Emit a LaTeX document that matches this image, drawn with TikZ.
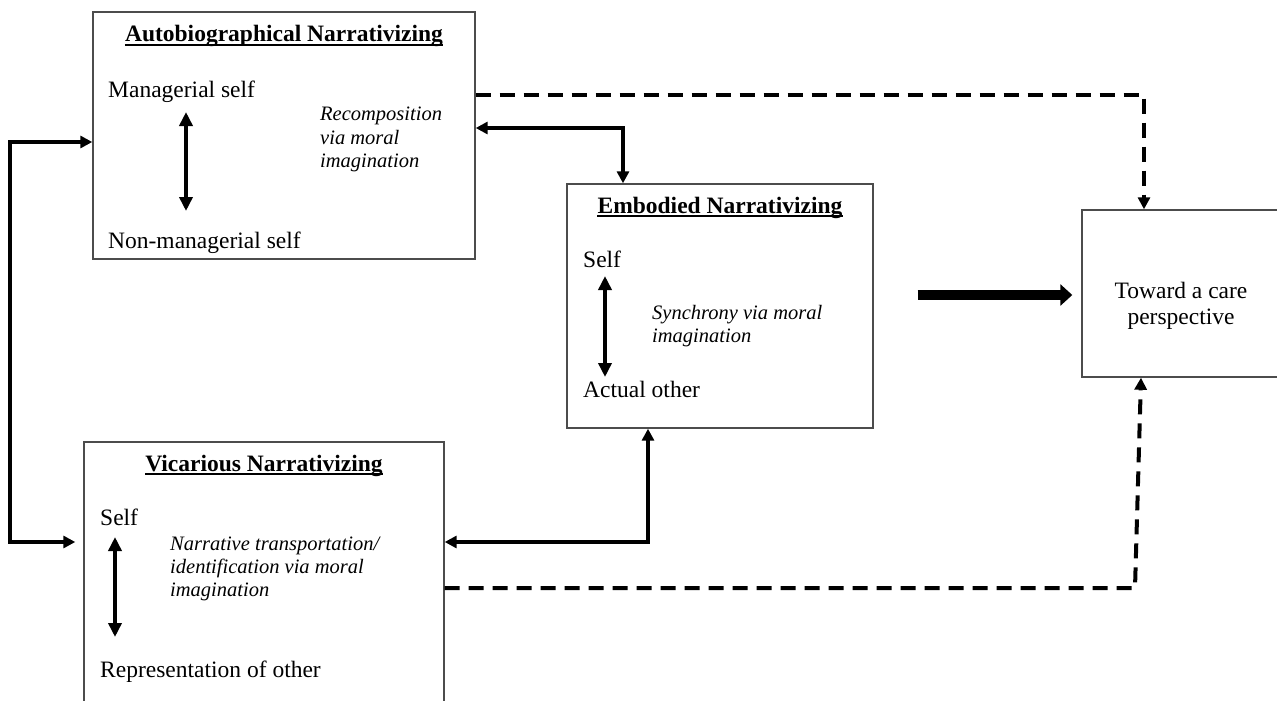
\documentclass[tikz,border=0pt]{standalone}
\usepackage{fontspec}
\setmainfont{Liberation Serif}
\usetikzlibrary{arrows.meta,calc}
\begin{document}
\begin{tikzpicture}[x=1pt,y=-1pt,
  box/.style={draw=black!70, line width=1.4pt, rectangle, inner sep=0pt},
  lbl/.style={anchor=base west, inner sep=0pt, font=\fontsize{23.5}{27}\selectfont},
  ctr/.style={anchor=base, inner sep=0pt, font=\fontsize{23.5}{27}\selectfont},
  ttl/.style={anchor=base, inner sep=0pt, font=\fontsize{23.5}{27}\selectfont\bfseries},
  itl/.style={anchor=base west, inner sep=0pt, font=\fontsize{20.5}{23.5}\selectfont\itshape},
  conn/.style={line width=3.8pt, {Triangle[length=12pt,width=12pt]}-{Triangle[length=12pt,width=12pt]}},
  dconn/.style={line width=4pt, dash pattern=on 15pt off 9pt, -{Triangle[length=12pt,width=12pt]}},
  dbl/.style={line width=3.8pt, {Triangle[length=14pt,width=13pt]}-{Triangle[length=14pt,width=13pt]}},
  bigarrow/.style={line width=10pt, -{Triangle[length=12pt,width=21pt]}},
  uline/.style={line width=1.5pt}
]
\useasboundingbox (0,0) rectangle (1277,701);
\clip (0,0) rectangle (1277,701);

% boxes
\node[box, minimum width=382pt, minimum height=247pt] (auto) at (284,135.5) {};
\node[box, minimum width=306pt, minimum height=244pt] (emb) at (720,306) {};
\node[box, minimum width=360pt, minimum height=288pt] (vic) at (264,586) {};
\node[box, minimum width=218pt, minimum height=167pt] (toward) at (1191,293.5) {};

% autobiographical content
\node[ttl] (t1) at (284,42) {Autobiographical Narrativizing};
\draw[uline] ([yshift=-3pt]t1.base west) -- ([yshift=-3pt]t1.base east);
\node[lbl] (ms) at (108,97) {Managerial self};
\node[lbl] (nms) at (108,248) {Non-managerial self};
\node[itl] (r1) at (320,121) {Recomposition};
\node[itl] (r2) at (320,144) {via moral};
\node[itl] (r3) at (320,167) {imagination};
\coordinate (a1) at (186,112);
\coordinate (a2) at (186,211);
\draw[dbl] (a1) -- (a2);

% embodied content
\node[ttl] (t2) at (720,213) {Embodied Narrativizing};
\draw[uline] ([yshift=-3pt]t2.base west) -- ([yshift=-3pt]t2.base east);
\node[lbl] (es) at (583,267) {Self};
\node[lbl] (eo) at (583,397) {Actual other};
\node[itl] (s1) at (652,319) {Synchrony via moral};
\node[itl] (s2) at (652,342) {imagination};
\coordinate (e1) at (605,276);
\coordinate (e2) at (605,377);
\draw[dbl] (e1) -- (e2);

% vicarious content
\node[ttl] (t3) at (264,471) {Vicarious Narrativizing};
\draw[uline] ([yshift=-3pt]t3.base west) -- ([yshift=-3pt]t3.base east);
\node[lbl] (vs) at (100,525) {Self};
\node[lbl] (vo) at (100,677) {Representation of other};
\node[itl] (n1) at (170,550) {Narrative transportation/};
\node[itl] (n2) at (170,573) {identification via moral};
\node[itl] (n3) at (170,596) {imagination};
\coordinate (v1) at (115,537);
\coordinate (v2) at (115,637);
\draw[dbl] (v1) -- (v2);

% toward content
\node[ctr] (c1) at (1181,298) {Toward a care};
\node[ctr] (c2) at (1181,324) {perspective};

% connectors
\coordinate (l1) at (10,142);
\coordinate (l2) at (10,542);
\draw[conn, shorten <=8pt] (vic.west |- l2) -- (l2) -- (l1) -- (auto.west |- l1);

\coordinate (k1) at (623,128);
\draw[conn] (auto.east |- k1) -- (k1) -- (emb.north -| k1);

\coordinate (b1) at (648,542);
\draw[conn] (emb.south -| b1) -- (b1) -- (vic.east |- b1);

\coordinate (d1) at (1144,95);
\draw[dconn] (auto.east |- d1) -- (d1) -- (toward.north -| d1);

\coordinate (d2) at (1135,588);
\coordinate (d3) at (1141,0);
\draw[dconn] (vic.east |- d2) -- (d2) -- (toward.south -| d3);

\coordinate (g1) at (0,295);
\draw[bigarrow, shorten <=44pt, shorten >=9pt] (emb.east |- g1) -- (toward.west |- g1);
\end{tikzpicture}
\end{document}
